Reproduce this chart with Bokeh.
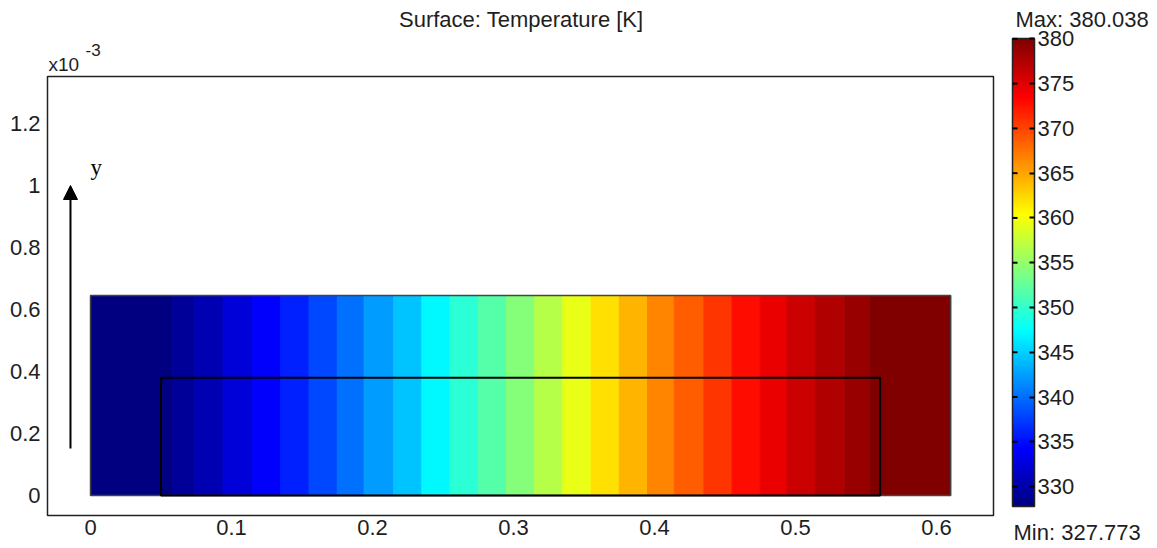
from bokeh.plotting import figure
from bokeh.models import (Range1d, LinearColorMapper, ColorBar, FixedTicker, Label,
                          Arrow, NormalHead, ColumnDataSource)
from bokeh.layouts import row, column
from bokeh.embed import file_html
from bokeh.resources import INLINE

# ---------------- data ----------------
band_left = [0.0, 0.058, 0.074, 0.094, 0.115, 0.135, 0.155, 0.175, 0.194, 0.215,
             0.235, 0.255, 0.275, 0.295, 0.315, 0.335, 0.355, 0.375, 0.395, 0.414,
             0.435, 0.455, 0.475, 0.494, 0.514, 0.535, 0.553]
band_right = [0.058, 0.074, 0.094, 0.115, 0.135, 0.155, 0.175, 0.194, 0.215, 0.235,
              0.255, 0.275, 0.295, 0.315, 0.335, 0.355, 0.375, 0.395, 0.414, 0.435,
              0.455, 0.475, 0.494, 0.514, 0.535, 0.553, 0.61]
band_temp = [327.8, 329.0, 330.5, 332.3, 334.2, 336.1, 338.0, 340.1, 342.3, 344.5,
             347.0, 349.5, 351.8, 354.2, 356.7, 359.3, 361.9, 364.3, 366.6, 368.8,
             370.8, 372.7, 374.5, 376.1, 377.5, 378.8, 380.0]
domain_x = [0.0, 0.61]
domain_y = [0.0, 0.645]          # x10^-3
inner_x = [0.05, 0.56]
inner_y = [0.0, 0.38]            # x10^-3
t_min = 327.773
t_max = 380.038
x_ticks = [0, 0.1, 0.2, 0.3, 0.4, 0.5, 0.6]
x_tick_labels = ["0", "0.1", "0.2", "0.3", "0.4", "0.5", "0.6"]
y_ticks = [0, 0.2, 0.4, 0.6, 0.8, 1.0, 1.2]
y_tick_labels = ["0", "0.2", "0.4", "0.6", "0.8", "1", "1.2"]
cbar_ticks = [330, 335, 340, 345, 350, 355, 360, 365, 370, 375, 380]
title_text = "Surface: Temperature [K]"
max_text = "Max: 380.038"
min_text = "Min: 327.773"

# ---------------- style ----------------
FONT = "Liberation Sans"
FS = "22px"
TXT = "#1e1e1e"
X_RANGE = (-0.0305, 0.6404)


def jet_palette(n=256):
    pal = []
    for i in range(n):
        v = i / (n - 1)
        r = min(max(1.5 - abs(4 * v - 3), 0), 1)
        g = min(max(1.5 - abs(4 * v - 2), 0), 1)
        b = min(max(1.5 - abs(4 * v - 1), 0), 1)
        pal.append("#%02x%02x%02x" % (int(round(r * 255)), int(round(g * 255)), int(round(b * 255))))
    return pal


mapper = LinearColorMapper(palette=jet_palette(), low=t_min, high=t_max)

# ---------------- header strip (title, exponent) ----------------
ptop = figure(width=1000, height=75, output_backend="svg", toolbar_location=None,
              x_range=Range1d(*X_RANGE), y_range=Range1d(75, 0),
              min_border_left=47, min_border_right=7, min_border_top=0, min_border_bottom=0)
ptop.outline_line_color = None
ptop.grid.visible = False
ptop.axis.visible = False
ptop.add_layout(Label(x=0.3055, y=19, text=title_text, text_align="center",
                      text_baseline="alphabetic", text_font=FONT, text_font_size=FS,
                      text_color=TXT))
ptop.add_layout(Label(x=X_RANGE[0], y=64, x_offset=1, text="x10", text_baseline="alphabetic",
                      text_font=FONT, text_font_size="19px", text_color=TXT))
ptop.add_layout(Label(x=-0.0035, y=49, text="-3", text_baseline="alphabetic",
                      text_font=FONT, text_font_size="17px", text_color=TXT))

# ---------------- main figure ----------------
p = figure(width=1000, height=473, output_backend="svg", toolbar_location=None,
           x_range=Range1d(*X_RANGE), y_range=Range1d(-0.0645, 1.3516),
           min_border_left=47, min_border_right=7, min_border_top=1, min_border_bottom=33)
p.background_fill_color = "white"
p.border_fill_color = "white"
p.outline_line_color = "#222222"
p.outline_line_width = 1.5
p.grid.visible = False

for ax, ticks, labels, sd in ((p.xaxis[0], x_ticks, x_tick_labels, 4),
                              (p.yaxis[0], y_ticks, y_tick_labels, 7)):
    ax.ticker = FixedTicker(ticks=ticks)
    ax.major_label_overrides = dict(zip(ticks, labels))
    ax.axis_line_color = None
    ax.major_tick_line_color = None
    ax.minor_tick_line_color = None
    ax.major_tick_out = 0
    ax.major_tick_in = 0
    ax.minor_tick_out = 0
    ax.minor_tick_in = 0
    ax.major_label_text_font = FONT
    ax.major_label_text_font_size = FS
    ax.major_label_text_color = TXT
    ax.major_label_standoff = sd

src = ColumnDataSource(dict(left=band_left, right=band_right, temp=band_temp,
                            bottom=[domain_y[0]] * len(band_temp),
                            top=[domain_y[1]] * len(band_temp)))
p.quad(left="left", right="right", bottom="bottom", top="top", source=src,
       fill_color={"field": "temp", "transform": mapper},
       line_color={"field": "temp", "transform": mapper}, line_width=1)

p.quad(left=domain_x[0], right=domain_x[1], bottom=domain_y[0], top=domain_y[1],
       fill_color=None, line_color="#444444", line_width=1.5)
p.quad(left=inner_x[0], right=inner_x[1], bottom=inner_y[0], top=inner_y[1],
       fill_color=None, line_color="black", line_width=2)

p.add_layout(Arrow(end=NormalHead(size=14, fill_color="black", line_color="black"),
                   x_start=-0.0142, y_start=0.152, x_end=-0.0142, y_end=1.0,
                   line_color="black", line_width=2))
p.add_layout(Label(x=0.0, y=1.017, text="y", text_font="Liberation Serif",
                   text_font_size="23px", text_color="black"))

# ---------------- colorbar figure (frame covers whole canvas) ----------------
BAR_LEFT, BAR_W, BAR_TOP, BAR_BOT, H2 = 12, 22, 38, 506, 548
k = (t_max - t_min) / (BAR_BOT - BAR_TOP)
p2 = figure(width=157, height=H2, output_backend="svg", toolbar_location=None, title=None,
            x_range=Range1d(0, 157),
            y_range=Range1d(t_min - (H2 - BAR_BOT) * k, t_max + BAR_TOP * k),
            min_border_left=0, min_border_right=0, min_border_top=0, min_border_bottom=0)
p2.outline_line_color = None
p2.grid.visible = False
p2.axis.visible = False

cb = ColorBar(color_mapper=mapper, ticker=FixedTicker(ticks=cbar_ticks),
              location=(BAR_LEFT, H2 - BAR_BOT),
              orientation="vertical", width=BAR_W, height=BAR_BOT - BAR_TOP, padding=0, margin=0,
              bar_line_color="#222222", bar_line_width=1.5,
              major_tick_in=5, major_tick_out=0, major_tick_line_color="black",
              major_tick_line_width=2, minor_tick_line_color=None,
              label_standoff=3, major_label_text_font=FONT, major_label_text_font_size=FS,
              major_label_text_color=TXT, background_fill_alpha=0, border_line_color=None)
p2.add_layout(cb)
# tick dashes on the left edge of the bar
p2.segment(x0=[BAR_LEFT] * len(cbar_ticks), x1=[BAR_LEFT + 5] * len(cbar_ticks),
           y0=cbar_ticks, y1=cbar_ticks, line_color="black", line_width=2, level="overlay")
p2.add_layout(Label(x=BAR_LEFT + 3, y=t_max, y_offset=19, text=max_text,
                    text_baseline="alphabetic",
                    text_font=FONT, text_font_size=FS, text_color=TXT))
p2.add_layout(Label(x=BAR_LEFT + 1, y=t_min, y_offset=-26, text=min_text,
                    text_baseline="alphabetic",
                    text_font=FONT, text_font_size=FS, text_color=TXT))

layout = row(column(ptop, p), p2)
open("out.html", "w").write(file_html(layout, INLINE))
